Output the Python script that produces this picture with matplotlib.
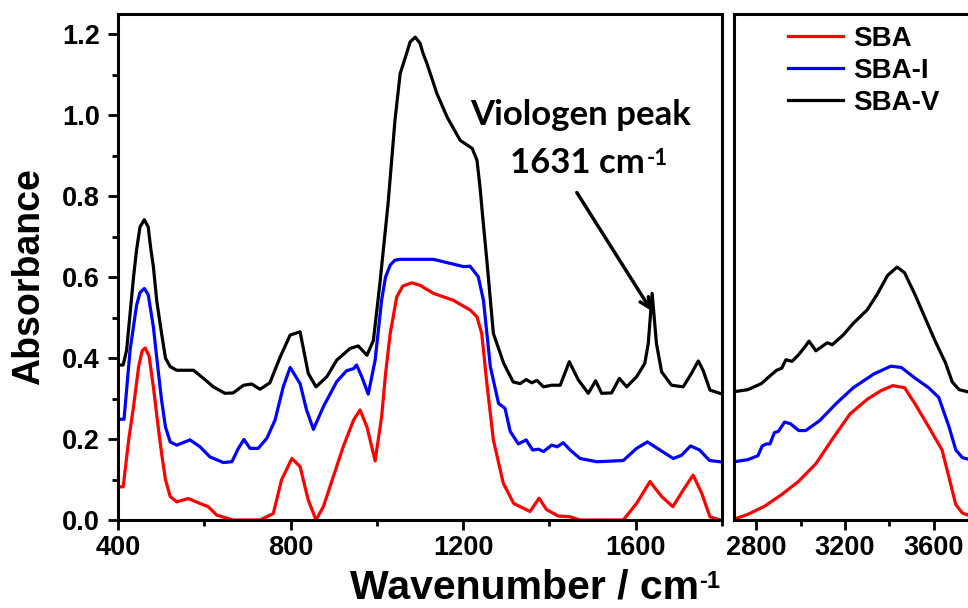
import matplotlib
matplotlib.use("Agg")
import matplotlib.pyplot as plt
from matplotlib.ticker import MultipleLocator

plt.rcParams['font.family'] = ['Liberation Sans', 'DejaVu Sans']
plt.rcParams['font.weight'] = 'bold'

# SBA-V (black), low wavenumber region
v_x = [405, 412, 420, 428, 436, 443, 451, 461, 470, 476, 482, 490, 501, 510, 521, 536, 575, 598,
       621, 648, 667, 691, 710, 729, 752, 776, 799, 822, 841, 859, 884, 907, 938, 957, 977, 992,
       1007, 1026, 1042, 1054, 1069, 1077, 1089, 1100, 1107, 1116, 1139, 1163, 1193, 1221, 1232,
       1239, 1246, 1255, 1270, 1294, 1316, 1332, 1346, 1359, 1371, 1386, 1405, 1425, 1446, 1467,
       1490, 1507, 1521, 1544, 1562, 1579, 1602, 1621, 1629, 1638, 1648, 1660, 1683, 1710, 1729,
       1745, 1756, 1772, 1795]
v_y = [0.383, 0.383, 0.420, 0.510, 0.600, 0.667, 0.724, 0.742, 0.724, 0.670, 0.626, 0.540, 0.461,
       0.400, 0.379, 0.370, 0.370, 0.350, 0.329, 0.313, 0.314, 0.333, 0.336, 0.323, 0.339, 0.403,
       0.457, 0.465, 0.362, 0.329, 0.354, 0.395, 0.424, 0.430, 0.407, 0.444, 0.584, 0.782, 0.988,
       1.103, 1.153, 1.181, 1.193, 1.178, 1.153, 1.128, 1.054, 0.995, 0.938, 0.918, 0.889, 0.823,
       0.741, 0.640, 0.461, 0.387, 0.341, 0.337, 0.347, 0.339, 0.345, 0.329, 0.333, 0.333, 0.391,
       0.346, 0.313, 0.344, 0.313, 0.314, 0.350, 0.329, 0.354, 0.387, 0.436, 0.560, 0.436, 0.366,
       0.333, 0.329, 0.362, 0.393, 0.370, 0.321, 0.313]

# SBA-I (blue)
i_x = [405, 414, 428, 443, 451, 461, 470, 482, 492, 501, 510, 521, 536, 567, 590, 613, 644, 664,
       679, 692, 706, 725, 745, 764, 783, 799, 822, 837, 853, 876, 907, 930, 946, 953, 965, 980,
       996, 1011, 1020, 1031, 1042, 1054, 1131, 1170, 1201, 1216, 1235, 1247, 1263, 1282, 1297,
       1309, 1328, 1346, 1361, 1375, 1386, 1405, 1418, 1432, 1448, 1471, 1510, 1571, 1602, 1627,
       1656, 1687, 1706, 1727, 1748, 1771, 1795]
i_y = [0.249, 0.249, 0.420, 0.530, 0.562, 0.572, 0.557, 0.477, 0.380, 0.296, 0.230, 0.193, 0.185,
       0.198, 0.181, 0.156, 0.142, 0.144, 0.177, 0.199, 0.177, 0.177, 0.202, 0.247, 0.329, 0.377,
       0.337, 0.272, 0.224, 0.280, 0.342, 0.369, 0.374, 0.383, 0.354, 0.311, 0.395, 0.543, 0.600,
       0.630, 0.642, 0.644, 0.644, 0.634, 0.626, 0.627, 0.601, 0.543, 0.379, 0.288, 0.276, 0.219,
       0.188, 0.198, 0.173, 0.175, 0.169, 0.185, 0.181, 0.191, 0.173, 0.152, 0.144, 0.147, 0.177,
       0.193, 0.173, 0.152, 0.160, 0.183, 0.173, 0.147, 0.144]

# SBA (red)
s_x = [405, 412, 425, 436, 448, 456, 463, 472, 482, 492, 501, 510, 521, 536, 563, 590, 609, 629,
       667, 729, 760, 779, 803, 822, 841, 859, 876, 899, 922, 946, 961, 977, 996, 1011, 1020, 1031,
       1046, 1060, 1081, 1100, 1131, 1177, 1216, 1232, 1243, 1255, 1270, 1293, 1317, 1355, 1376,
       1393, 1420, 1448, 1471, 1571, 1602, 1633, 1660, 1686, 1710, 1733, 1753, 1772, 1795]
s_y = [0.082, 0.082, 0.200, 0.280, 0.380, 0.418, 0.425, 0.405, 0.329, 0.240, 0.165, 0.100, 0.058,
       0.045, 0.053, 0.041, 0.033, 0.012, 0.0, 0.0, 0.016, 0.099, 0.152, 0.132, 0.049, 0.0, 0.033,
       0.107, 0.181, 0.247, 0.272, 0.230, 0.146, 0.255, 0.360, 0.461, 0.551, 0.578, 0.586, 0.580,
       0.560, 0.543, 0.519, 0.502, 0.461, 0.337, 0.198, 0.091, 0.041, 0.021, 0.054, 0.026, 0.010,
       0.008, 0.0, 0.0, 0.041, 0.095, 0.058, 0.033, 0.074, 0.111, 0.066, 0.008, 0.0]

# high wavenumber region
vh_x = [2700, 2762, 2823, 2862, 2892, 2915, 2934, 2962, 2992, 3020, 3038, 3069, 3100, 3120, 3143,
        3192, 3238, 3300, 3346, 3392, 3435, 3469, 3515, 3561, 3607, 3653, 3684, 3715, 3767, 3800]
vh_y = [0.317, 0.322, 0.337, 0.356, 0.370, 0.375, 0.396, 0.392, 0.409, 0.428, 0.442, 0.418, 0.430,
        0.438, 0.433, 0.457, 0.486, 0.519, 0.558, 0.604, 0.625, 0.611, 0.558, 0.500, 0.442, 0.389,
        0.341, 0.322, 0.315, 0.315]
ih_x = [2700, 2762, 2808, 2827, 2846, 2862, 2882, 2900, 2928, 2954, 2992, 3023, 3085, 3161, 3238,
        3331, 3407, 3454, 3515, 3577, 3623, 3669, 3700, 3730, 3767, 3800]
ih_y = [0.144, 0.149, 0.159, 0.183, 0.188, 0.188, 0.216, 0.219, 0.242, 0.238, 0.221, 0.221, 0.245,
        0.288, 0.327, 0.361, 0.380, 0.377, 0.351, 0.327, 0.303, 0.231, 0.173, 0.154, 0.149, 0.148]
sh_x = [2700, 2762, 2838, 2915, 2992, 3069, 3146, 3223, 3300, 3361, 3415, 3469, 3515, 3577, 3638,
        3669, 3700, 3730, 3767, 3800]
sh_y = [0.002, 0.014, 0.034, 0.063, 0.096, 0.139, 0.202, 0.262, 0.298, 0.319, 0.332, 0.327, 0.288,
        0.231, 0.173, 0.106, 0.038, 0.017, 0.010, 0.008]

fig = plt.figure(figsize=(9.68, 6.08), dpi=100)
ax1 = fig.add_axes([0.1219, 0.1447, 0.6240, 0.8322])
ax2 = fig.add_axes([0.7583, 0.1447, 0.2417, 0.8322])

lw = 2.3
for ax, xs, ys in [(ax1, (s_x, i_x, v_x), (s_y, i_y, v_y)),
                   (ax2, (sh_x, ih_x, vh_x), (sh_y, ih_y, vh_y))]:
    ax.plot(xs[0], ys[0], color='#ff0000', lw=lw, label='SBA', solid_joinstyle='round')
    ax.plot(xs[1], ys[1], color='#0000ff', lw=lw, label='SBA-I', solid_joinstyle='round')
    ax.plot(xs[2], ys[2], color='black', lw=lw, label='SBA-V', solid_joinstyle='round')
    ax.set_ylim(0, 1.25)
    for sp in ax.spines.values():
        sp.set_linewidth(2.2)
    ax.tick_params(which='major', length=7.5, width=2, labelsize=19.5)
    ax.tick_params(which='minor', length=4, width=2)
    ax.tick_params(axis='x', pad=3.5)
    ax.tick_params(axis='y', pad=5.5)

ax1.set_xlim(400, 1800)
ax1.xaxis.set_major_locator(MultipleLocator(400))
ax1.xaxis.set_minor_locator(MultipleLocator(200))
ax1.yaxis.set_major_locator(MultipleLocator(0.2))
ax1.yaxis.set_minor_locator(MultipleLocator(0.1))
ax1.yaxis.set_major_formatter(plt.FuncFormatter(lambda v, p: f'{v:.1f}'))

ax2.set_xlim(2700, 3755)
ax2.xaxis.set_major_locator(MultipleLocator(400))
ax2.xaxis.set_minor_locator(MultipleLocator(200))
ax2.set_yticks([])
ax2.spines['right'].set_visible(False)

fig.text(0.030, 0.5444, 'Absorbance', rotation=90, ha='center', va='center',
         fontsize=27, fontweight='bold')
xl = fig.text(0.3616, 0.0155, 'Wavenumber / cm', ha='left', va='baseline',
              fontsize=29.5, fontweight='bold')
ax1.annotate('-1', xy=(1.0, 0.97), xycoords=xl, ha='left', va='top',
             fontsize=17, fontweight='bold')

ann_font = ['Lato', 'DejaVu Sans']
ax1.text(1473, 0.975, 'Viologen peak', ha='center', va='baseline', fontsize=25,
         fontweight='bold', family=ann_font)
t2 = ax1.text(1464, 0.857, '1631 cm', ha='center', va='baseline', fontsize=25,
              fontweight='bold', family=ann_font)
ax1.annotate('-1', xy=(1.02, 0.98), xycoords=t2, ha='left', va='top',
             fontsize=16, fontweight='bold', family=ann_font)
ax1.annotate('', xy=(1640, 0.511), xytext=(1460, 0.815),
             arrowprops=dict(arrowstyle='->,head_length=0.7,head_width=0.35', lw=2.5, color='black'))

ax2.legend(loc='upper left', bbox_to_anchor=(0.2308, 0.977), frameon=False, fontsize=20,
           handlelength=1.98, handletextpad=0.36, labelspacing=0.22, borderpad=0,
           borderaxespad=0)

fig.savefig('out.png', dpi=100)
